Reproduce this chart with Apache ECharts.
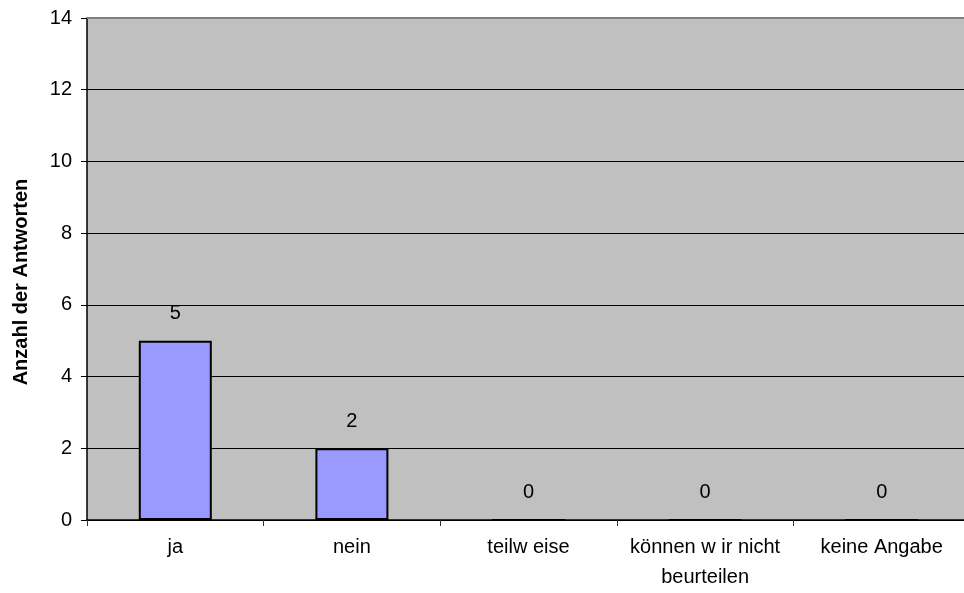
<!DOCTYPE html>
<html lang="de">

<head>
    <meta charset="utf-8" />
    <title>Anzahl der Antworten</title>
    <script src="https://cdn.jsdelivr.net/npm/echarts@6/dist/echarts.min.js"></script>
    <style>
        body { margin: 0; background: #fff; }
    </style>
</head>

<body>

    <div id="main" style="width: 964px;height:593px;"></div>
    <script type="text/javascript">

        // data
        var categories = ['ja', 'nein', 'teilw eise', 'können w ir nicht\nbeurteilen', 'keine Angabe'];
        var answers = [5, 2, 0, 0, 0];
        var yMin = 0, yMax = 14, yStep = 2;
        var yTitle = 'Anzahl der Antworten';

        var myChart = echarts.init(document.getElementById('main'));

        var font = 'Liberation Sans, Arial, sans-serif';

        option = {
            animation: false,
            grid: {
                left: 87,
                top: 18,
                width: 883,
                height: 502,
                outerBoundsMode: 'none',
                show: true,
                backgroundColor: '#c0c0c0',
                borderWidth: 0
            },
            xAxis: [{
                type: 'category',
                data: categories,
                axisLine: { lineStyle: { color: '#000', width: 1.5 } },
                axisTick: { show: true, length: 6, lineStyle: { color: '#333', width: 1 } },
                axisLabel: {
                    color: '#000',
                    fontFamily: font,
                    fontSize: 20,
                    lineHeight: 30,
                    margin: 12,
                    interval: 0
                }
            }, {
                // top edge of the plot area
                type: 'category',
                position: 'top',
                data: categories,
                axisLine: { show: true, lineStyle: { color: '#808080', width: 2 } },
                axisTick: { show: false },
                axisLabel: { show: false }
            }],
            yAxis: {
                type: 'value',
                min: yMin,
                max: yMax,
                interval: yStep,
                axisLine: { show: true, lineStyle: { color: '#000', width: 1.5 } },
                axisTick: { show: true, length: 6, lineStyle: { color: '#000' } },
                axisLabel: {
                    color: '#000',
                    fontFamily: font,
                    fontSize: 20,
                    margin: 15
                },
                splitLine: { show: true, showMaxLine: false, lineStyle: { color: '#000', width: 1 } }
            },
            graphic: [{
                type: 'text',
                x: 21,
                y: 282,
                rotation: Math.PI / 2,
                style: {
                    text: yTitle,
                    fill: '#000',
                    font: 'bold 20px ' + font,
                    align: 'center',
                    verticalAlign: 'middle'
                }
            }],
            series: [{
                type: 'bar',
                data: answers,
                barWidth: 73,
                itemStyle: { color: '#9999ff', borderColor: '#000', borderWidth: 2 },
                label: {
                    show: true,
                    position: 'top',
                    distance: 17,
                    color: '#000',
                    fontFamily: font,
                    fontSize: 20
                }
            }]
        };

        myChart.setOption(option);

    </script>
</body>

</html>
